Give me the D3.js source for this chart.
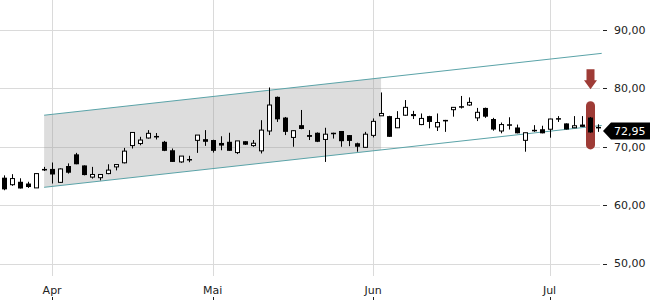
<!DOCTYPE html>
<html>
<head>
<meta charset="utf-8">
<script src="https://cdn.jsdelivr.net/npm/d3@7"></script>
<style>
  body { margin: 0; background: #fff; }
  svg { display: block; font-family: "DejaVu Sans", sans-serif; }
</style>
</head>
<body>
<div id="chart"></div>
<script>
// daily candles, oldest first
let opens  = [64.7, 63.5, 64.0, 63.7, 62.95, 66.2, 66.2, 63.9, 66.7, 68.7, 66.8, 64.8, 64.7, 65.4, 66.55,
              67.25, 70.2, 70.55, 71.5, 71.85, 70.85, 69.4, 67.4, 67.9, 71.1, 71.3, 71.15, 70.65, 70.85, 69.0,
              70.95, 70.2, 69.3, 72.7, 78.55, 75.0, 71.6, 73.7, 72.0, 72.4, 71.25, 72.4, 72.7, 72.0, 70.6,
              69.9, 71.95, 75.3, 75.25, 73.25, 75.4, 75.6, 73.8, 75.25, 73.4, 74.6, 76.35, 76.95, 77.15, 74.95,
              76.65, 74.75, 72.7, 73.85, 73.3, 71.1, 72.9, 73.0, 73.0, 74.9, 74.0, 73.25, 73.8, 75.0, 73.4];
let highs  = [65.1, 65.3, 64.6, 64.0, 65.45, 66.55, 67.3, 66.3, 67.15, 68.95, 66.8, 66.55, 65.3, 67.0, 67.0,
              69.8, 72.5, 71.7, 72.85, 72.35, 71.0, 69.7, 68.4, 68.45, 72.0, 72.85, 71.2, 71.8, 72.4, 71.0,
              70.95, 71.15, 74.55, 80.15, 78.6, 75.1, 72.8, 76.3, 72.85, 72.45, 73.25, 72.4, 72.7, 72.0, 70.7,
              72.55, 74.85, 79.3, 75.3, 76.1, 78.0, 76.15, 75.7, 75.3, 75.7, 74.6, 76.8, 78.7, 78.45, 76.65,
              76.7, 74.95, 74.15, 75.05, 73.8, 72.4, 73.7, 73.6, 74.8, 75.25, 74.0, 75.25, 75.25, 75.1, 73.85];
let lows   = [62.55, 63.3, 62.85, 62.95, 62.95, 65.85, 63.7, 63.8, 65.4, 67.0, 65.1, 64.55, 64.25, 65.3, 65.95,
              67.15, 69.7, 70.25, 71.4, 71.25, 69.25, 67.4, 67.25, 67.35, 68.95, 70.15, 69.0, 69.4, 69.3, 68.75,
              70.3, 70.0, 68.85, 72.0, 74.25, 72.0, 70.0, 73.0, 71.15, 70.8, 67.4, 71.4, 70.0, 70.1, 69.15,
              69.85, 71.6, 75.3, 71.7, 73.2, 75.3, 74.75, 73.7, 73.15, 72.7, 72.55, 75.15, 76.55, 77.0, 74.4,
              74.95, 72.75, 72.3, 72.95, 72.3, 69.15, 72.55, 72.3, 71.55, 74.25, 72.95, 73.2, 73.4, 72.4, 72.55];
let closes = [62.7, 64.55, 62.85, 63.1, 65.4, 65.95, 65.25, 66.2, 65.55, 67.0, 65.15, 65.25, 65.25, 66.0, 66.95,
              69.25, 72.45, 71.15, 72.3, 71.6, 69.3, 67.4, 68.4, 67.7, 72.0, 70.85, 69.3, 70.2, 69.3, 71.0,
              70.35, 70.6, 72.85, 77.15, 74.7, 72.55, 72.75, 73.05, 71.7, 70.85, 72.15, 72.35, 70.95, 71.0, 70.0,
              72.15, 74.35, 75.7, 71.7, 74.85, 76.75, 75.25, 74.85, 74.25, 74.15, 74.55, 76.75, 76.85, 77.6, 75.9,
              75.15, 72.95, 73.8, 73.75, 72.3, 72.4, 72.7, 72.3, 74.75, 74.7, 72.95, 73.6, 73.4, 72.45, 73.25];

// month labels and the candle they start at
let monthLabels = ["Apr", "Mai", "Jun", "Jul"];
let monthStart  = [6, 26, 46, 68];

let priceTicks = [50, 60, 70, 80, 90];
let lastPrice = 72.95;

// trend channel: candle index -> price at both ends
let channelIdx   = [5, 74.5];
let channelUpper = [75.4, 86.0];
let channelLower = [63.05, 73.65];
let channelShadeEnd = 47;

let highlightIdx = 73;
let highlightRange = [69.55, 77.8];

const width = 650, height = 300;
const red = "#9e3b36";

let svg = d3.select("#chart").append("svg")
    .attr("width", width)
    .attr("height", height);

let x = d3.scaleLinear()
    .domain([0, opens.length - 1])
    .range([4, 597.7]);

let y = d3.scaleLinear()
    .domain([50, 90])
    .range([263.5, 30]);

let fmt = d3.formatLocale({decimal: ",", thousands: ".", grouping: [3], currency: ["", " €"]}).format(".2f");

let px = v => Math.round(v) + 0.5;

// grid
svg.append("g")
    .selectAll("line")
    .data(priceTicks)
    .join("line")
    .attr("x1", 0)
    .attr("x2", 600)
    .attr("y1", d => px(y(d)))
    .attr("y2", d => px(y(d)))
    .attr("stroke", "#dadada");

svg.append("g")
    .selectAll("line")
    .data(monthStart)
    .join("line")
    .attr("x1", d => px(x(d)))
    .attr("x2", d => px(x(d)))
    .attr("y1", 0)
    .attr("y2", 276)
    .attr("stroke", "#dadada");

// channel shading + lines
let lineAt = (vals, i) => vals[0] + (vals[1] - vals[0]) * (i - channelIdx[0]) / (channelIdx[1] - channelIdx[0]);
let shadePts = [
    [channelIdx[0], channelUpper[0]],
    [channelShadeEnd, lineAt(channelUpper, channelShadeEnd)],
    [channelShadeEnd, lineAt(channelLower, channelShadeEnd)],
    [channelIdx[0], channelLower[0]]
];
svg.append("polygon")
    .attr("points", shadePts.map(p => [x(p[0]), y(p[1])].join(",")).join(" "))
    .attr("fill", "#999")
    .attr("fill-opacity", 0.33);

[channelUpper, channelLower].forEach(function(vals) {
    svg.append("line")
        .attr("x1", x(channelIdx[0]))
        .attr("y1", y(vals[0]))
        .attr("x2", x(channelIdx[1]))
        .attr("y2", y(vals[1]))
        .attr("stroke", "#5aa3a8")
        .attr("stroke-width", 1);
});

// highlight pill + arrow
let hx = px(x(highlightIdx));
svg.append("rect")
    .attr("x", hx - 4.5)
    .attr("width", 9)
    .attr("y", y(highlightRange[1]))
    .attr("height", y(highlightRange[0]) - y(highlightRange[1]))
    .attr("rx", 4.5)
    .attr("fill", red);

let aTop = y(highlightRange[1]) - 32, aBot = y(highlightRange[1]) - 12;
svg.append("path")
    .attr("d", `M${hx - 4},${aTop} H${hx + 4} V${aTop + 11} H${hx + 6.5} L${hx},${aBot} L${hx - 6.5},${aTop + 11} H${hx - 4} Z`)
    .attr("fill", red);

// candles
let candles = svg.append("g")
    .selectAll("g")
    .data(opens.map((o, i) => ({i: i, o: o, h: highs[i], l: lows[i], c: closes[i]})))
    .join("g");

candles.append("line")
    .attr("x1", d => px(x(d.i)))
    .attr("x2", d => px(x(d.i)))
    .attr("y1", d => y(d.h))
    .attr("y2", d => y(d.l))
    .attr("stroke", "#000");

candles.append("rect")
    .attr("x", d => d.c >= d.o ? px(x(d.i)) - 2 : px(x(d.i)) - 2.5)
    .attr("width", d => d.c >= d.o ? 4 : 5)
    .attr("y", d => y(Math.max(d.o, d.c)))
    .attr("height", d => Math.max(1.5, Math.abs(y(d.o) - y(d.c))))
    .attr("fill", d => d.c >= d.o ? "#fff" : "#000")
    .attr("stroke", d => d.c >= d.o ? "#000" : "none");

// right axis
let yAxis = svg.append("g");
yAxis.selectAll("line")
    .data(priceTicks)
    .join("line")
    .attr("x1", 603)
    .attr("x2", 607)
    .attr("y1", d => px(y(d)))
    .attr("y2", d => px(y(d)))
    .attr("stroke", "#222");
yAxis.selectAll("text")
    .data(priceTicks)
    .join("text")
    .attr("x", 614)
    .attr("y", d => y(d))
    .attr("dy", "0.35em")
    .style("font-size", "11px")
    .attr("fill", "#222")
    .text(d => fmt(d));

// last price tag
let ly = y(lastPrice) + 1.5;
svg.append("path")
    .attr("d", `M603,${ly} L611,${ly - 8.5} H650 V${ly + 8.5} H611 Z`)
    .attr("fill", "#000");
svg.append("text")
    .attr("x", 614)
    .attr("y", ly)
    .attr("dy", "0.35em")
    .style("font-size", "11px")
    .attr("fill", "#fff")
    .text(fmt(lastPrice));

// month axis
let xAxis = svg.append("g");
xAxis.selectAll("text")
    .data(monthStart)
    .join("text")
    .attr("x", d => x(d))
    .attr("y", 294)
    .attr("text-anchor", "middle")
    .style("font-size", "11px")
    .attr("fill", "#222")
    .text((d, i) => monthLabels[i]);
xAxis.selectAll("line")
    .data(monthStart)
    .join("line")
    .attr("x1", d => px(x(d)))
    .attr("x2", d => px(x(d)))
    .attr("y1", 297)
    .attr("y2", 300)
    .attr("stroke", "#222");
</script>
</body>
</html>
